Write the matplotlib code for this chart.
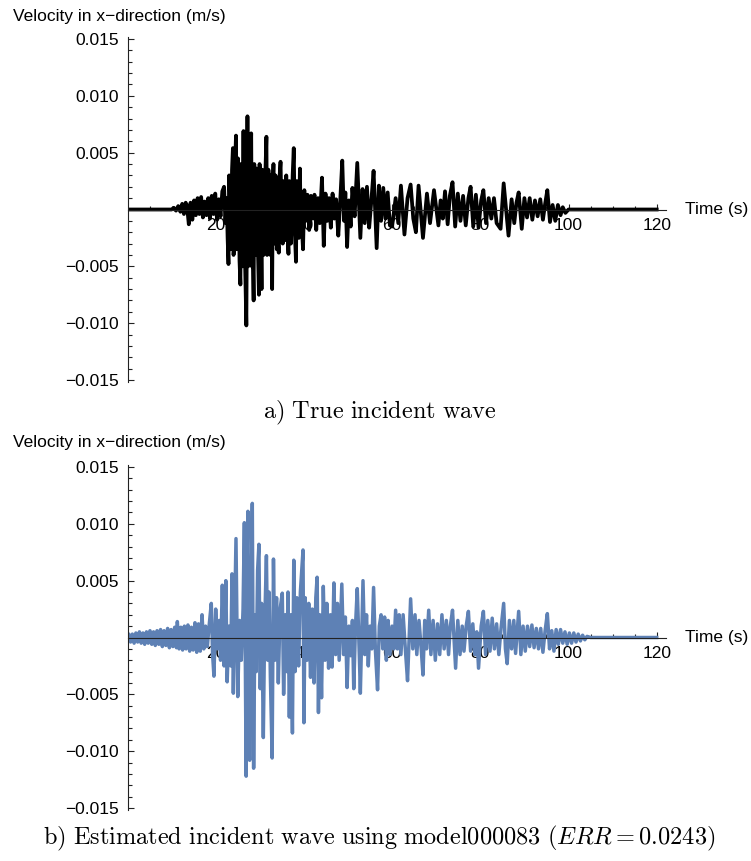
import numpy as np
import matplotlib
matplotlib.use('Agg')
import matplotlib.pyplot as plt
from matplotlib.ticker import FixedLocator, FuncFormatter

# ---------------- data (velocity values in 1e-3 m/s) ----------------
t_true = [0, 10, 10.5, 11.0, 11.5, 12.0, 12.4, 12.8, 13.2, 13.5, 13.9, 14.3, 14.7, 15.1, 15.5,
          15.9, 16.3, 16.7, 17.1, 17.5, 17.9, 18.3, 18.7, 19.1, 19.5, 19.9, 20.3, 20.7, 21.1,
          21.5, 21.9, 22.2, 22.5, 22.7, 22.9, 23.05, 23.2, 23.35, 23.5, 23.7, 23.9, 24.05,
          24.2, 24.4, 24.6, 24.75, 24.9, 25.05, 25.2, 25.4, 25.6, 25.75, 25.9, 26.1,
          26.3, 26.45, 26.6, 26.95, 27.2, 27.35, 27.5, 27.65, 27.8, 28.05, 28.2, 28.35, 28.6,
          28.75, 28.9, 29.1, 29.3, 29.55, 29.8, 29.95, 30.1,
          30.4, 30.55, 30.7, 30.85, 31.0, 31.25, 31.5, 31.65, 31.8, 31.95, 32.1, 32.25, 32.4,
          32.6, 32.8, 32.95, 33.1, 33.25, 33.4, 33.55, 33.7, 33.85, 34.0, 34.3, 34.5, 34.7,
          35.0, 35.2, 35.4, 35.55, 35.7, 36.0, 36.25, 36.5, 36.7, 36.9, 37.05, 37.2, 37.45,
          37.7, 37.95, 38.2, 38.4, 38.6, 38.85, 39.1, 39.3, 39.5, 39.8, 40.1,
          40.4, 40.8, 41.2, 41.6, 42.0, 42.4, 42.8, 43.2, 43.6, 44.1, 44.5, 44.9, 45.3, 45.7,
          46.1, 46.5, 46.9, 47.3, 47.8, 48.2, 48.7, 49.1, 49.4, 49.8, 50.2, 50.6, 51.0, 51.5,
          52.1, 52.8, 53.3, 53.8, 54.3, 54.8, 55.3, 55.8, 56.5, 57.0, 57.5, 58.0, 58.5, 59.0,
          59.5, 60.0, 60.8, 61.4, 62.0, 62.8, 63.5, 64.2, 64.8, 65.4, 66.0, 67.0, 67.9, 68.6,
          69.5, 70.5, 71.0, 71.5, 72.0, 72.6, 73.1, 73.7, 74.3, 74.9, 75.5, 76.1, 76.7, 77.3,
          77.8, 78.4, 79.0, 79.6, 80.2, 80.7, 81.3, 81.9, 82.5, 83.1, 83.7, 84.6, 85.3, 86.4,
          87.1, 87.7, 88.2, 88.7, 89.4, 90.0, 90.6, 91.2, 91.8, 92.4, 93.0, 93.6, 94.2, 94.7,
          95.2, 95.8, 96.4, 97.0, 97.6, 98.2, 98.7, 99.3, 100.0, 120.0]
v_true = [0, 0, 0.15, -0.1, 0.3, -0.2, 0.5, -0.4, 0.6, 0.3, -1.3, 0.6, -0.9, 0.8, -0.5,
          1.0, -0.4, 1.1, -0.7, 0.7, -0.5, 1.0, -0.8, 1.2, -0.4, 1.4, -0.9, 0.9, -0.6,
          1.6, 2.0, -1.2, 1.0, -2.5, -4.8, 3.0, 1.5, -3.5, -2.8, 3.5, 5.4, -4.0,
          -3.2, 4.0, 6.5, -3.5, -2.0, 4.5, 2.8, -4.5, -6.6, 4.0, 3.0, -5.0,
          6.9, -4.0, -3.5, -10.2, 8.2, -5.0, -4.0, 5.0, 2.5, 6.7, -5.0, -2.5, -8.0,
          4.0, 1.8, -4.0, 3.6, -3.0, -7.5, 4.0, 2.2,
          -7.0, 3.5, 1.5, -4.0, -2.8, 3.0, 6.4, -4.0, -3.0, 3.5, 2.6, -3.0, -4.0,
          3.0, -7.0, 2.0, 4.0, -3.0, -1.5, 3.0, 2.5, -3.5, -2.0, -3.8, 3.0, 4.2,
          -1.6, -3.0, 2.5, -2.0, -2.7, 3.0, -2.0, -3.9, 2.5, 1.8, -3.0, -1.5, 3.0,
          5.4, -2.0, -4.6, 2.5, 1.5, -2.5, 3.6, -2.0, -1.2, -3.5, 1.7,
          -1.0, 1.3, -1.8, 1.2, -0.8, 1.3, -1.8, 1.0, -1.2, 2.8, -3.2, 1.4, -1.0, 1.0,
          -1.6, 1.4, -0.8, 0.9, -2.3, 0.5, 4.3, -1.0, 1.5, -3.3, 0.8, -1.5, 1.9, -0.6,
          4.1, -2.5, 1.8, -1.2, 2.0, -1.6, 0.8, 3.4, -3.4, 2.1, -1.0, 1.9, -0.8, 1.5,
          -1.4, -1.5, 1.0, -1.2, 2.1, -2.2, 1.0, 2.2, -0.8, -2.0, 2.1, -2.5, 1.4, -1.2,
          1.7, -1.4, 0.8, -0.8, 1.6, -1.3, 1.2, 2.4, -1.5, 1.4, -1.0, 1.2, -1.4, 1.0,
          2.0, -1.5, 1.3, -1.6, 0.8, 1.7, -1.2, 1.0, -0.8, 1.0, -1.2, -1.7, 2.3, -2.3,
          0.9, -1.2, 0.6, 1.5, -1.7, 1.0, -0.7, 1.0, -0.9, 0.8, -0.6, 0.9, -0.9, 0.5,
          1.7, -1.1, 0.4, -1.0, 0.4, -0.5, 0.2, -0.3, 0, 0]

t_est = [0, 0.3, 0.7, 1.1, 1.5, 1.9, 2.3, 2.7, 3.1, 3.5, 3.9, 4.3, 4.7, 5.1, 5.5, 5.9, 6.3,
         6.7, 7.1, 7.5, 7.9, 8.3, 8.7, 9.1, 9.5, 9.9, 10.3, 10.7, 11.1, 11.3, 11.7, 12.1,
         12.5, 12.9, 13.3, 13.7, 14.1, 14.5, 14.9, 15.3, 15.7, 16.1, 16.5, 16.9, 17.3, 17.7,
         18.1, 18.5, 19.0, 19.3, 19.6, 20.0, 20.4, 20.8, 21.1, 21.5, 21.9, 22.3, 22.6, 23.0,
         23.4, 23.7, 24.0, 24.3, 24.6, 25.0, 25.4, 25.8, 26.2, 26.5, 26.9, 27.1, 27.3, 27.5,
         27.7, 28.0, 28.3, 28.6, 28.9, 29.2, 29.5, 29.8, 30.1, 30.4, 30.8, 31.1, 31.5, 31.8,
         32.1, 32.4, 32.8, 33.1, 33.4, 33.8, 34.2, 34.6, 35.1, 35.4, 35.8, 36.1, 36.4, 36.7,
         37.0, 37.4, 37.7, 38.0, 38.4, 38.8, 39.2, 39.8, 40.0, 40.3, 40.7, 41.1, 41.5, 41.9,
         42.3, 42.7, 43.0, 43.3, 43.6, 44.0, 44.4, 44.8, 45.2, 45.6, 46.0, 46.4, 46.8, 47.2,
         47.6, 48.0, 48.6, 49.0, 49.4, 49.8, 50.2, 50.6, 51.0, 51.3, 51.7, 52.1, 52.6, 52.8,
         53.4, 53.8, 54.2, 54.6, 55.0, 55.4, 55.8, 56.2, 56.7, 57.1, 57.5, 57.9, 58.3, 58.7,
         59.1, 59.5, 60.0, 60.4, 60.8, 61.2, 61.6, 62.0, 62.5, 63.0, 63.5, 64.2, 64.7, 65.2,
         65.6, 66.1, 66.6, 67.0, 67.4, 67.8, 68.3, 68.8, 69.3, 69.8, 70.3, 70.8, 71.3, 71.8,
         72.3, 72.8, 73.2, 73.7, 74.4, 74.9, 75.4, 75.9, 76.3, 76.8, 77.3, 77.8, 78.3, 78.8,
         79.2, 79.6, 80.2, 80.7, 81.2, 81.7, 82.2, 82.7, 83.2, 83.7, 84.2, 84.7, 85.3, 85.7,
         86.1, 86.6, 87.1, 87.6, 88.0, 88.7, 89.2, 89.7, 90.2, 90.7, 91.2, 91.7, 92.2, 92.7,
         93.2, 93.7, 94.2, 94.7, 95.2, 95.7, 96.2, 96.7, 97.2, 97.7, 98.2, 98.7, 99.2, 99.7,
         100.2, 100.7, 101.2, 101.7, 102.2, 102.7, 103.2, 103.7, 104.2, 105.0, 120.0]
v_est = [0, 0.3, -0.4, 0.3, -0.5, 0.4, -0.4, 0.5, -0.5, 0.4, -0.6, 0.5, -0.5, 0.6, -0.6, 0.5,
         -0.7, 0.6, -0.6, 0.7, -0.8, 0.6, -0.7, 0.8, -0.9, 0.7, -0.8, 0.9, -0.9, 1.4, -1.0,
         0.9, -1.1, 1.0, -1.0, 1.1, -1.2, 0.9, -1.1, 1.3, -1.3, 1.2, -1.2, 2.0, -1.0, 1.0,
         -0.8, 1.0, 3.0, -1.5, -3.4, 2.5, -1.0, 1.5, -2.0, 4.6, -2.5, 5.0, -3.9, 1.0,
         -2.5, 5.6, -4.9, 2.0, 8.7, -5.2, 1.5, -2.0, 2.5, 10.1, -12.2, 6.0, 11.1, -4.0,
         -10.8, 3.0, 11.8, -11.5, 2.0, -3.0, 5.9, 8.2, -4.5, 3.0, -8.8, 1.0, 7.2, -2.0,
         4.0, -3.5, -10.6, 6.9, -2.0, 3.5, -4.0, 2.5, 3.9, -5.0, 2.0, -3.0, 4.0, -7.0,
         2.0, -8.4, 6.8, -3.0, 3.5, -2.5, 4.0, 7.7, -7.5, 3.5, -2.0, 3.0, -3.5, 2.5,
         -4.0, 3.5, 5.3, -6.6, 2.0, -5.3, 4.5, -2.0, 3.0, -2.7, 2.0, -2.6, 4.8, -1.5,
         3.0, -2.0, 4.7, -1.5, 1.8, -4.4, 1.0, -1.6, 1.5, -4.5, 1.0, 4.3, -2.0, -4.9,
         5.0, -1.5, 2.0, -2.5, 1.0, -1.0, 4.4, -1.0, -4.6, 1.0, 2.0, -1.0, 1.8, -2.0,
         1.5, -1.5, 1.0, -1.0, 2.4, -1.0, 2.0, -1.5, 2.0, -1.0, -3.8, 3.4, -1.0, 2.0,
         -1.5, 1.5, -1.0, -3.3, 1.5, -1.0, 2.4, -1.5, 1.5, -2.0, 1.2, -1.5, 2.0, -1.0,
         1.5, -1.5, 1.0, 2.4, -2.7, 1.5, -1.5, 1.0, -1.2, 1.0, 2.3, -1.2, 1.2, -1.5,
         0.5, -2.7, 1.0, 2.3, -1.5, 1.5, -1.2, 1.7, -1.0, 1.2, -1.5, 0.8, 3.0, -1.0,
         -2.3, 1.5, -1.0, 1.5, -1.4, 2.3, -1.5, 1.0, -1.2, 1.0, -0.8, 1.1, -0.9, 0.8,
         -1.0, 0.8, -1.3, 0.6, 2.1, -1.0, 0.6, -1.2, 0.7, -0.6, 0.7, -0.5, 0.5, -0.6,
         0.4, -0.5, 0.4, -0.4, 0.3, -0.3, 0.2, -0.2, 0.1, 0, 0]

y_major = [-0.015, -0.010, -0.005, 0.005, 0.010, 0.015]
x_major = [20, 40, 60, 80, 100, 120]

caption_a = r'$\mathrm{a)\ True\ incident\ wave}$'
caption_b = r'$\mathrm{b)\ Estimated\ incident\ wave\ using\ model000083\ (}ERR=0.0243\mathrm{)}$'
ylabel = 'Velocity in x\u2212direction (m/s)'
xlabel = 'Time (s)'

# ---------------- figure ----------------
plt.rcParams['font.family'] = ['Liberation Sans', 'DejaVu Sans']
plt.rcParams['mathtext.fontset'] = 'cm'
plt.rcParams['axes.unicode_minus'] = True

W, H = 751, 861
fig = plt.figure(figsize=(W / 100, H / 100), dpi=100)

XMAX = 122.0
YMAX = 0.0151


def make_axes(px_top, px_bot, t, v, color, lw):
    # px_top: pixel row of y=+0.015 ; px_bot: pixel row of y=-0.015
    x0 = 127.5 / W
    x1 = (127.5 + XMAX * 4.41) / W
    scale = (px_bot - px_top) / 0.030
    ytop = px_top - (YMAX - 0.015) * scale
    ybot = px_bot + (YMAX - 0.015) * scale
    ax = fig.add_axes([x0, 1 - ybot / H, x1 - x0, (ybot - ytop) / H])
    ax.plot(t, np.array(v) * 1e-3, color=color, lw=lw, solid_joinstyle='round', zorder=2)
    ax.set_xlim(0, XMAX)
    ax.set_ylim(-YMAX, YMAX)
    for s in ['top', 'right']:
        ax.spines[s].set_visible(False)
    ax.spines['left'].set_position(('data', 0))
    ax.spines['bottom'].set_position(('data', 0))
    for s in ['left', 'bottom']:
        ax.spines[s].set_linewidth(0.8)
        ax.spines[s].set_color('#222222')
        ax.spines[s].set_zorder(3)
    ax.spines['left'].set_bounds(-0.0152, 0.0152)
    ax.spines['bottom'].set_bounds(0, XMAX)
    ax.patch.set_visible(False)

    ax.yaxis.set_major_locator(FixedLocator(y_major))
    ax.yaxis.set_minor_locator(FixedLocator([k * 0.001 for k in range(-15, 16)
                                             if k % 5 != 0]))
    ax.yaxis.set_major_formatter(FuncFormatter(lambda y, p: ('%.3f' % y).replace('-', '\u2212')))
    ax.xaxis.set_major_locator(FixedLocator(x_major))
    ax.xaxis.set_minor_locator(FixedLocator([k for k in range(5, 121, 5) if k % 20 != 0]))
    ax.tick_params(axis='both', which='both', direction='in', color='#222222', width=0.8,
                   labelsize=12.5, zorder=3)
    ax.tick_params(axis='y', which='major', length=4.5, pad=6)
    ax.tick_params(axis='y', which='minor', length=2.6)
    ax.tick_params(axis='x', which='major', length=4.5, pad=6)
    ax.tick_params(axis='x', which='minor', length=2.6)
    ax.text(XMAX + 4.5, 0, xlabel, fontsize=12.5, ha='left', va='center', clip_on=False)
    return ax


ax1 = make_axes(39, 380, t_true, v_true, 'black', 2.7)
ax2 = make_axes(467, 808, t_est, v_est, '#5E81B5', 2.5)

fig.text(13 / W, 1 - 16 / H, ylabel, fontsize=12.5, ha='left', va='center')
fig.text(13 / W, 1 - 443 / H, ylabel, fontsize=12.5, ha='left', va='center')

fig.text(380 / W, 1 - 413 / H, caption_a, fontsize=17.5, ha='center', va='center')
fig.text(379 / W, 1 - 838 / H, caption_b, fontsize=17.5, ha='center', va='center')

fig.savefig('out.png', dpi=100)
